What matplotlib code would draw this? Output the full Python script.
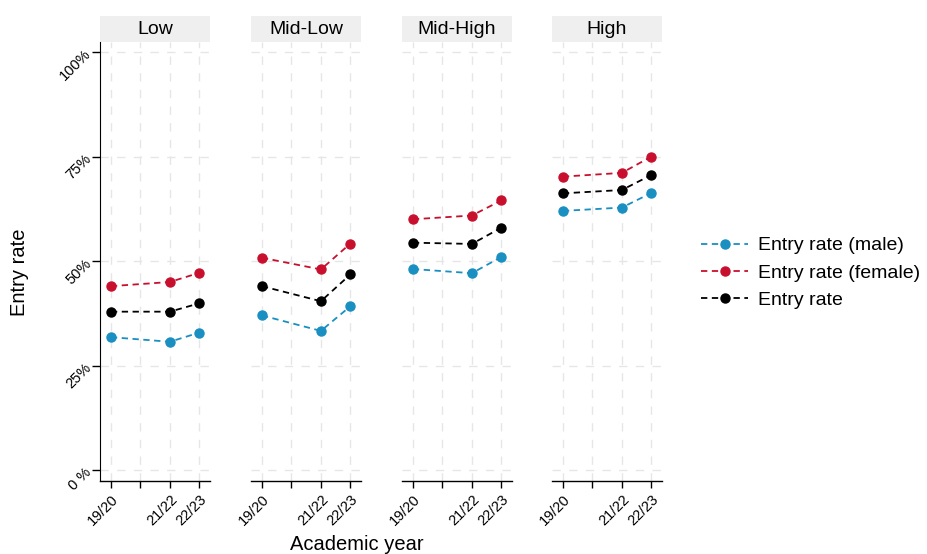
import numpy as np
import matplotlib
matplotlib.use("Agg")
import matplotlib.pyplot as plt
from matplotlib.patches import Rectangle

plt.rcParams['font.family'] = ['Liberation Sans', 'DejaVu Sans']

groups = ["Low", "Mid-Low", "Mid-High", "High"]
all_years = ["19/20", "20/21", "21/22", "22/23"]
years = ["19/20", "21/22", "22/23"]

rate_male = [
    [31.8, 30.7, 32.9],
    [37.0, 33.3, 39.2],
    [48.1, 47.1, 51.0],
    [62.0, 62.8, 66.3],
]
rate_female = [
    [44.0, 45.0, 47.2],
    [50.8, 48.0, 54.2],
    [60.0, 60.9, 64.5],
    [70.2, 71.1, 75.0],
]
rate_all = [
    [37.9, 37.9, 39.9],
    [44.0, 40.4, 46.8],
    [54.4, 54.1, 58.0],
    [66.2, 67.0, 70.6],
]

series = [
    ("Entry rate (male)", rate_male, "#1a8fc1"),
    ("Entry rate (female)", rate_female, "#c8102e"),
    ("Entry rate", rate_all, "black"),
]

W, H = 928, 554
fig = plt.figure(figsize=(W / 100, H / 100), dpi=100)

lefts = [100, 251, 402, 552]
pw = 110
top, bottom = 42, 481

x_pos = [all_years.index(y) for y in years]
tick_labels = [y if y in years else "" for y in all_years]
grid_kw = dict(color="#e6e6e6", linestyle=(0, (6, 6)), linewidth=1.0)

for i, g in enumerate(groups):
    ax = fig.add_axes([lefts[i] / W, 1 - bottom / H, pw / W, (bottom - top) / H])
    for name, data, col in series:
        ax.plot(x_pos, data[i], linestyle=(0, (3.5, 2.5)), color=col, lw=1.3,
                marker="o", markersize=6.5, label=name, zorder=3)
    ax.set_xlim(-0.37, 3.36)
    ax.set_ylim(-2.6, 102.4)
    ax.set_xticks(range(len(all_years)))
    ax.set_xticklabels(tick_labels, rotation=45, ha="right", va="top",
                       rotation_mode="anchor", fontsize=10.5)
    ax.set_yticks([0, 25, 50, 75, 100])
    ax.grid(True, **grid_kw)
    ax.set_axisbelow(True)
    for s in ["top", "right"]:
        ax.spines[s].set_visible(False)
    ax.spines["bottom"].set_linewidth(1.0)
    ax.tick_params(axis="x", length=5, width=1.0, pad=3)
    if i == 0:
        ax.set_yticklabels(["0 %", "25%", "50%", "75%", "100%"], rotation=45,
                           ha="right", va="center", rotation_mode="anchor",
                           fontsize=10.5)
        ax.tick_params(axis="y", length=6, width=1.0, pad=2)
    else:
        ax.spines["left"].set_visible(False)
        ax.tick_params(axis="y", length=0, labelleft=False)
    # facet strip
    strip_h = 26 / (bottom - top)
    ax.add_patch(Rectangle((0, 1), 1, strip_h, transform=ax.transAxes,
                           facecolor="#efefef", edgecolor="none", clip_on=False))
    ax.text(0.5, 1 + strip_h / 2, g, transform=ax.transAxes, ha="center",
            va="center", fontsize=14)
    if i == 0:
        handles, labels = ax.get_legend_handles_labels()

fig.text(20 / W, 1 - 272 / H, "Entry rate", rotation=90, ha="center",
         va="center", fontsize=14.5)
fig.text(357 / W, 1 - 545 / H, "Academic year", ha="center", va="center",
         fontsize=14.5)

fig.legend(handles, labels, loc="center left", bbox_to_anchor=(684 / W, 1 - 273 / H),
           frameon=False, fontsize=14, handlelength=2.4, handletextpad=0.5,
           labelspacing=0.5)

fig.savefig("out.png", dpi=100)
